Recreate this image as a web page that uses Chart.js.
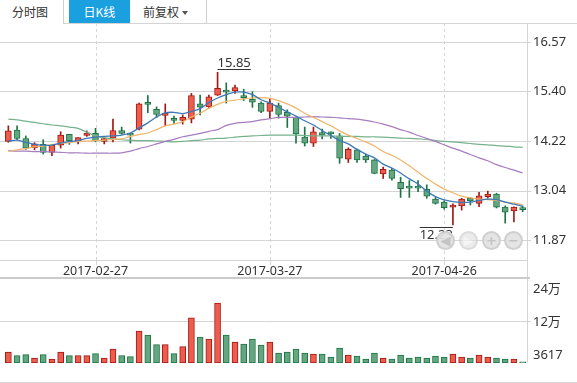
<!DOCTYPE html>
<html>
<head>
<meta charset="utf-8">
<script src="https://cdn.jsdelivr.net/npm/chart.js@4/dist/chart.umd.min.js"></script>
<style>
  html,body{margin:0;padding:0;background:#fff;}
  body{width:577px;height:383px;position:relative;overflow:hidden;font-family:"Noto Sans","Noto Sans CJK SC",sans-serif;}
  .abs{position:absolute;}
  .tab{position:absolute;top:0;height:23px;line-height:24px;font-size:12px;color:#333;font-family:"Noto Sans CJK SC","Noto Sans",sans-serif;}
  .zbtn{position:absolute;width:15px;height:15px;border-radius:50%;background:rgba(226,226,226,0.92);border:2px solid rgba(205,205,205,0.95);color:#fff;font-size:13px;line-height:15px;text-align:center;font-family:"DejaVu Sans",sans-serif;font-weight:bold;}
</style>
</head>
<body>
<div class="tab" style="left:12px;">分时图</div>
<div class="abs" style="left:63px;top:0;width:1px;height:23px;background:#cfcfcf;"></div>
<div class="tab" style="left:69px;width:61px;background:#1a9fdf;color:#fff;text-align:center;">日K线</div>
<div class="tab" style="left:143px;">前复权</div>
<div class="abs" style="left:182px;top:11px;width:0;height:0;border-left:3.5px solid transparent;border-right:3.5px solid transparent;border-top:4px solid #555;"></div>
<div class="abs" style="left:206px;top:0;width:1px;height:23px;background:#cfcfcf;"></div>

<div class="abs" style="left:0;top:0;"><canvas id="k" width="577" height="278"></canvas></div>
<div class="abs" style="left:0;top:278px;"><canvas id="v" width="577" height="105"></canvas></div>
<div class="abs" style="left:0;top:277px;width:530px;height:2px;background:#cbcbcb;"></div>
<div class="abs" style="left:0;top:382px;width:577px;height:1px;background:#d6d6d6;"></div>

<div class="zbtn" style="left:436px;top:231px;color:#c4c4c4;">&#9664;</div>
<div class="zbtn" style="left:459px;top:231px;color:#f2f2f2;opacity:0.75;">&#9654;</div>
<div class="zbtn" style="left:482px;top:231px;color:#c4c4c4;">+</div>
<div class="zbtn" style="left:504px;top:231px;color:#c4c4c4;">&#8722;</div>

<script>
// ---------- data ----------
const dates = ['2017-02-13','2017-02-14','2017-02-15','2017-02-16','2017-02-17','2017-02-20','2017-02-21','2017-02-22','2017-02-23','2017-02-24',
'2017-02-27','2017-02-28','2017-03-01','2017-03-02','2017-03-03','2017-03-06','2017-03-07','2017-03-08','2017-03-09','2017-03-10',
'2017-03-13','2017-03-14','2017-03-15','2017-03-16','2017-03-17','2017-03-20','2017-03-21','2017-03-22','2017-03-23','2017-03-24',
'2017-03-27','2017-03-28','2017-03-29','2017-03-30','2017-03-31','2017-04-05','2017-04-06','2017-04-07','2017-04-10','2017-04-11',
'2017-04-12','2017-04-13','2017-04-14','2017-04-17','2017-04-18','2017-04-19','2017-04-20','2017-04-21','2017-04-24','2017-04-25',
'2017-04-26','2017-04-27','2017-04-28','2017-05-02','2017-05-03','2017-05-04','2017-05-05','2017-05-08','2017-05-09','2017-05-10'];

const opens  = [14.21,14.48,14.28,14.06,14.14,13.95,14.12,14.38,14.20,14.35, 14.40,14.21,14.29,14.47,14.37,14.50,15.14,14.97,14.83,14.72,
                14.71,14.74,15.10,15.03,15.31,15.40,15.41,15.30,15.21,15.12, 14.92,15.06,14.90,14.78,14.31,14.17,14.42,14.40,14.34,13.79,
                14.01,13.86,13.77,13.44,13.53,13.24,13.15,13.15,13.07,12.84, 12.77,12.65,12.68,12.86,12.74,12.90,12.96,12.65,12.56,12.60];
const highs  = [14.58,14.58,14.34,14.18,14.25,14.13,14.44,14.38,14.30,14.46, 14.52,14.32,14.74,14.55,14.40,15.12,15.30,15.03,15.10,14.81,
                14.84,15.35,15.31,15.31,15.85,15.60,15.55,15.45,15.39,15.15, 15.23,15.12,14.96,14.79,14.55,14.55,14.50,14.44,14.40,14.06,
                14.03,13.91,13.78,13.60,13.57,13.36,13.28,13.28,13.18,12.88, 12.80,12.73,12.86,12.88,13.00,13.03,12.98,12.68,12.66,12.68];
const lows   = [14.19,14.25,14.02,14.01,13.91,13.87,14.05,14.14,14.15,14.33, 14.20,14.15,14.20,14.38,14.17,14.48,14.89,14.78,14.58,14.64,
                14.62,14.65,14.84,15.00,15.30,15.12,15.35,15.18,15.02,14.89, 14.76,14.76,14.54,14.17,14.10,14.09,14.27,14.28,13.69,13.71,
                13.71,13.71,13.44,13.33,13.29,12.88,12.88,13.02,12.86,12.72, 12.60,12.23,12.58,12.70,12.66,12.86,12.63,12.27,12.30,12.54];
const closes = [14.46,14.28,14.05,14.15,13.95,14.12,14.36,14.23,14.30,14.41, 14.23,14.28,14.47,14.40,14.36,15.10,15.09,14.85,14.88,14.71,
                14.78,15.30,15.02,15.27,15.47,15.38,15.49,15.25,15.14,14.92, 15.12,14.85,14.81,14.39,14.17,14.44,14.36,14.39,13.81,14.02,
                13.77,13.77,13.45,13.55,13.33,13.09,13.10,13.10,12.91,12.74, 12.64,12.70,12.84,12.80,12.92,12.96,12.65,12.53,12.65,12.59];
const volumes = [31400,21000,23800,14300,23800,11400,31400,21000,21000,21000, 26700,14300,40000,21000,18000,91400,80000,52300,52300,26700,
                 46600,129400,74300,68600,171400,80000,60000,54300,68600,51400, 60000,28600,31400,40000,28600,25700,25700,17100,42900,22900,
                 20000,11400,28600,14300,11400,22900,14300,17100,14300,20000, 17100,25700,17100,14300,22900,17100,14300,11400,11400,3617];

const ma5  = [14.22,14.24,14.19,14.14,14.12,14.12,14.17,14.21,14.23,14.28, 14.31,14.33,14.34,14.36,14.41,14.53,14.65,14.79,14.89,14.90,
              14.87,14.92,14.99,15.13,15.24,15.32,15.38,15.38,15.32,15.20, 15.12,15.02,14.91,14.81,14.70,14.60,14.47,14.35,14.23,14.15,
              14.02,13.91,13.82,13.67,13.58,13.46,13.32,13.20,13.03,12.90, 12.82,12.78,12.76,12.77,12.81,12.84,12.83,12.77,12.72,12.67];
const ma10 = [13.97,14.01,14.04,14.08,14.10,14.13,14.16,14.18,14.21,14.22, 14.23,14.24,14.26,14.27,14.33,14.37,14.41,14.49,14.58,14.62,
              14.68,14.79,14.88,15.00,15.09,15.16,15.19,15.22,15.24,15.25, 15.23,15.18,15.10,15.00,14.88,14.78,14.68,14.58,14.46,14.36,
              14.28,14.20,14.10,13.97,13.88,13.77,13.63,13.48,13.33,13.20, 13.08,12.99,12.91,12.87,12.84,12.83,12.81,12.77,12.75,12.71];
const ma20 = [13.99,13.98,13.98,13.97,13.97,13.96,13.95,13.94,13.94,13.93, 13.93,13.93,13.93,13.94,13.98,14.04,14.09,14.15,14.21,14.26,
              14.32,14.36,14.40,14.45,14.49,14.59,14.64,14.66,14.68,14.72, 14.75,14.78,14.78,14.78,14.79,14.80,14.79,14.78,14.77,14.75,
              14.74,14.71,14.67,14.62,14.56,14.49,14.43,14.35,14.28,14.21, 14.13,14.05,13.98,13.90,13.82,13.75,13.66,13.59,13.53,13.46];
const ma60 = [14.74,14.72,14.69,14.66,14.63,14.60,14.58,14.55,14.52,14.43, 14.34,14.30,14.27,14.25,14.24,14.23,14.23,14.22,14.21,14.20,
              14.21,14.23,14.24,14.27,14.28,14.29,14.31,14.33,14.34,14.35, 14.36,14.36,14.36,14.36,14.35,14.34,14.34,14.34,14.33,14.33,
              14.33,14.32,14.32,14.31,14.30,14.29,14.28,14.27,14.26,14.23, 14.21,14.20,14.18,14.16,14.14,14.13,14.11,14.10,14.08,14.07];

const priceTicks = [11.87, 13.04, 14.22, 15.40, 16.57];
const priceTickLabels = ['11.87','13.04','14.22','15.40','16.57'];
const dateTickLabels = ['2017-02-27','2017-03-27','2017-04-26'];
const volTicks = [3617, 120000, 240000];
const volTickLabels = ['3617','12万','24万'];

// ---------- styles ----------
const RED_FILL = '#ee5c4d', RED_LINE = '#a01a15';
const GRN_FILL = '#64a680', GRN_LINE = '#1c7444';
const GRID = '#d4d4d4';
const TXT = '#333';
const FONT_NUM = '"Noto Sans","Noto Sans CJK SC",sans-serif';
const isUp = i => closes[i] > opens[i];
const dateTickIdx = dateTickLabels.map(d => dates.indexOf(d));
const px = v => Math.round(v) + 0.5;

function hline(ctx, x1, x2, y) { ctx.beginPath(); ctx.moveTo(x1, px(y)); ctx.lineTo(x2, px(y)); ctx.stroke(); }
function vline(ctx, x, y1, y2) { ctx.beginPath(); ctx.moveTo(px(x), y1); ctx.lineTo(px(x), y2); ctx.stroke(); }

const kFrame = {
  id: 'kFrame',
  beforeDatasetsDraw(chart) {
    const {ctx, chartArea: a, scales: {x, y}} = chart;
    ctx.save();
    ctx.lineWidth = 1;
    ctx.strokeStyle = GRID;
    priceTicks.forEach(v => hline(ctx, 0, a.right + 4, y.getPixelForValue(v)));
    ctx.setLineDash([3, 3]);
    dateTickIdx.forEach(i => vline(ctx, x.getPixelForValue(i), a.top, a.bottom));
    ctx.setLineDash([]);
    dateTickIdx.forEach(i => vline(ctx, x.getPixelForValue(i), a.bottom, a.bottom + 5));
    hline(ctx, 0, a.right, a.bottom);
    vline(ctx, a.right, a.top, chart.height);
    hline(ctx, 63, chart.width, a.top);
    ctx.restore();
  },
  afterDatasetsDraw(chart) {
    const {ctx, scales: {x, y}} = chart;
    ctx.save();
    ctx.font = '13px ' + FONT_NUM;
    ctx.fillStyle = TXT;
    ctx.strokeStyle = '#333';
    ctx.lineWidth = 1;
    const hi = Math.max(...highs), hiIdx = highs.indexOf(hi);
    const lo = Math.min(...lows), loIdx = lows.indexOf(lo);
    const hx = x.getPixelForValue(hiIdx), hy = y.getPixelForValue(hi);
    const ht = hi.toFixed(2), hw = ctx.measureText(ht).width;
    ctx.textAlign = 'left'; ctx.textBaseline = 'alphabetic';
    ctx.fillText(ht, hx, hy - 5);
    hline(ctx, hx, hx + hw, hy - 3.5);
    const lx = x.getPixelForValue(loIdx), ly = y.getPixelForValue(lo);
    const lt = lo.toFixed(2), lw = ctx.measureText(lt).width;
    ctx.textAlign = 'right';
    ctx.fillText(lt, lx, ly + 14.5);
    hline(ctx, lx - lw, lx, ly + 2.5);
    ctx.restore();
  }
};

const vFrame = {
  id: 'vFrame',
  beforeDatasetsDraw(chart) {
    const {ctx, chartArea: a, scales: {y}} = chart;
    ctx.save();
    ctx.lineWidth = 1;
    ctx.strokeStyle = GRID;
    volTicks.forEach(v => {
      const yy = y.getPixelForValue(v);
      if (yy > a.top + 2 && yy < a.bottom - 3) hline(ctx, 0, a.right + 4, yy);
    });
    vline(ctx, a.right, 0, a.bottom);
    ctx.restore();
  },
  afterDraw(chart) {
    const {ctx, chartArea: a, scales: {y}} = chart;
    ctx.save();
    ctx.font = '13px ' + FONT_NUM;
    ctx.fillStyle = TXT;
    ctx.textAlign = 'left'; ctx.textBaseline = 'alphabetic';
    volTicks.forEach((v, i) => {
      const yy = y.getPixelForValue(v);
      const base = Math.min(Math.max(yy + 5, a.top + 14), a.bottom - 4);
      ctx.fillText(volTickLabels[i], a.right + 6, base);
    });
    ctx.restore();
  }
};

const lineDs = (label, data, color, width) => ({
  type: 'line', label, data, borderColor: color, borderWidth: width,
  pointRadius: 0, tension: 0.3, fill: false, order: 0
});

new Chart(document.getElementById('k'), {
  type: 'bar',
  data: {
    labels: dates,
    datasets: [
      lineDs('MA5', ma5, '#3d79b6', 1.3),
      lineDs('MA10', ma10, '#f0b46a', 1.2),
      lineDs('MA20', ma20, '#a77cc0', 1.2),
      lineDs('MA60', ma60, '#76b28c', 1.2),
      {
        label: 'body', data: opens.map((o, i) => [o, closes[i]]),
        backgroundColor: opens.map((o, i) => isUp(i) ? RED_FILL : GRN_FILL),
        borderColor: opens.map((o, i) => isUp(i) ? RED_LINE : GRN_LINE),
        borderWidth: 1, borderSkipped: false, barThickness: 6, minBarLength: 2,
        grouped: false, order: 5
      },
      {
        label: 'wick', data: lows.map((l, i) => [l, highs[i]]),
        backgroundColor: lows.map((l, i) => isUp(i) ? RED_LINE : GRN_LINE),
        borderWidth: 0, barThickness: 1, grouped: false, order: 6
      }
    ]
  },
  options: {
    responsive: false, animation: false, events: [],
    layout: { padding: { left: 4, top: 23, right: 0, bottom: 0 } },
    plugins: { legend: { display: false }, tooltip: { enabled: false } },
    scales: {
      x: {
        offset: true,
        grid: { display: false, drawTicks: false },
        border: { display: false },
        ticks: {
          autoSkip: false, maxRotation: 0, minRotation: 0, padding: 4,
          color: TXT, font: { family: FONT_NUM, size: 12.5 },
          callback: (v, i) => dateTickIdx.includes(i) ? dates[i] : ''
        },
        afterFit: s => { s.height = 18; }
      },
      y: {
        position: 'right', min: 11.395, max: 17.021,
        grid: { display: false, drawTicks: false },
        border: { display: false },
        afterBuildTicks: s => { s.ticks = priceTicks.map(v => ({ value: v })); },
        ticks: {
          padding: 6, color: TXT, font: { family: FONT_NUM, size: 13 },
          callback: (v) => priceTickLabels[priceTicks.indexOf(v)] ?? ''
        },
        afterFit: s => { s.width = 50; }
      }
    }
  },
  plugins: [kFrame]
});

new Chart(document.getElementById('v'), {
  type: 'bar',
  data: {
    labels: dates,
    datasets: [{
      label: 'volume', data: volumes,
      backgroundColor: volumes.map((v, i) => isUp(i) ? RED_FILL : GRN_FILL),
      borderColor: volumes.map((v, i) => isUp(i) ? RED_LINE : GRN_LINE),
      borderWidth: 1, borderSkipped: false, barThickness: 6
    }]
  },
  options: {
    responsive: false, animation: false, events: [],
    layout: { padding: { left: 4, top: 1, right: 0, bottom: 20 } },
    plugins: { legend: { display: false }, tooltip: { enabled: false } },
    scales: {
      x: { display: false, offset: true },
      y: {
        position: 'right', min: 0, max: 240000,
        grid: { display: false, drawTicks: false },
        border: { display: false },
        afterBuildTicks: s => { s.ticks = volTicks.map(v => ({ value: v })); },
        ticks: { display: false },
        afterFit: s => { s.width = 50; }
      }
    }
  },
  plugins: [vFrame]
});
</script>
</body>
</html>
